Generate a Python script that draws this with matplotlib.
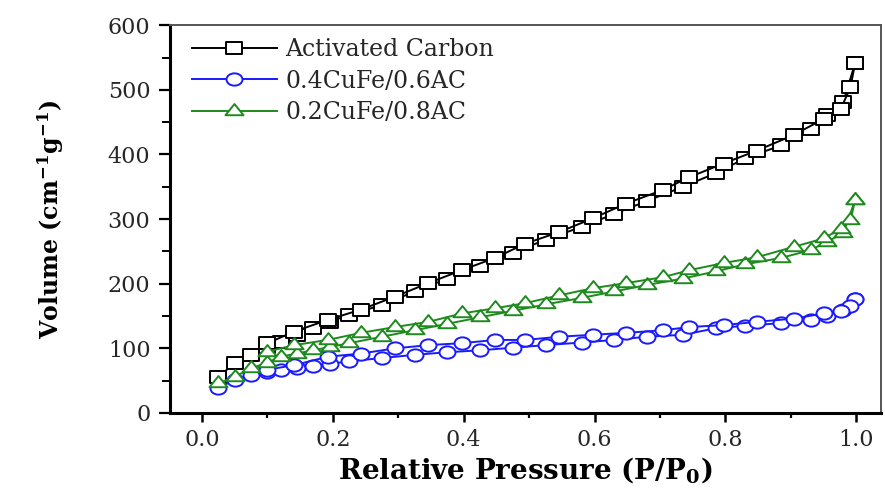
import matplotlib
matplotlib.use("Agg")
import matplotlib.pyplot as plt
from matplotlib.path import Path
from matplotlib.transforms import Affine2D
from matplotlib.ticker import MultipleLocator, FormatStrFormatter

plt.rcParams['font.family'] = ['DejaVu Serif']
plt.rcParams['mathtext.default'] = 'regular'

# relative pressure points, adsorption and desorption branches
p_ads = [0.025, 0.05, 0.075, 0.1, 0.12, 0.145, 0.17, 0.195, 0.225, 0.275, 0.325, 0.375, 0.425,
         0.475, 0.525, 0.58, 0.63, 0.68, 0.735, 0.785, 0.83, 0.885, 0.93, 0.955, 0.98, 0.998]
p_des = [0.998, 0.991, 0.976, 0.95, 0.904, 0.848, 0.797, 0.745, 0.704, 0.648, 0.597, 0.546, 0.494,
         0.448, 0.397, 0.346, 0.295, 0.243, 0.192, 0.141, 0.1]

ac_ads = [56, 77, 90, 102, 110, 120, 131, 141, 152, 167, 188, 208, 228,
          248, 268, 288, 308, 328, 350, 371, 394, 414, 440, 461, 481, 541]
ac_des = [541, 504, 470, 455, 430, 406, 386, 365, 345, 324, 301, 280, 262,
          240, 221, 201, 180, 160, 144, 126, 108]

cu4_ads = [39, 51, 59, 64, 67, 70, 73, 76, 80, 85, 90, 94, 97,
           101, 105, 109, 113, 118, 121, 131, 135, 139, 144, 150, 159, 177]
cu4_des = [177, 165, 158, 154, 146, 141, 136, 133, 128, 124, 121, 118, 113,
           113, 108, 105, 100, 92, 87, 74, 67]

cu2_ads = [46, 56, 69, 78, 87, 92, 97, 102, 108, 118, 128, 138, 148,
           158, 168, 178, 188, 198, 208, 219, 230, 240, 252, 265, 278, 329]
cu2_des = [329, 298, 285, 270, 257, 241, 232, 221, 210, 201, 193, 182, 170,
           162, 154, 141, 133, 124, 113, 105, 95]

# the source figure is a bit wide, so the markers are too
sq = Affine2D().translate(-0.5, -0.5).scale(1.35, 1).transform_path(Path.unit_rectangle())
circ = Affine2D().scale(1.3, 1).transform_path(Path.unit_circle())
tri = Affine2D().scale(1.4, 1).transform_path(Path.unit_regular_polygon(3))

series = [
    ("Activated Carbon", ac_ads, ac_des, "black", sq, 11.5),
    ("0.4CuFe/0.6AC", cu4_ads, cu4_des, "#1a1aff", circ, 11.5),
    ("0.2CuFe/0.8AC", cu2_ads, cu2_des, "#1e8a1e", tri, 13),
]

fig = plt.figure(figsize=(8.85, 4.94), dpi=100)
ax = fig.add_axes([0.192, 0.164, 0.803, 0.785])

for name, ads, des, col, mk, ms in series:
    ax.plot(p_ads, ads, color=col, marker=mk, ms=ms, mfc='white', mec=col, mew=1.4,
            lw=1.4, label=name)
    ax.plot(p_des, des, color=col, marker=mk, ms=ms, mfc='white', mec=col, mew=1.4, lw=1.4)

ax.set_xlim(-0.049, 1.037)
ax.set_ylim(0, 600)
ax.xaxis.set_major_locator(MultipleLocator(0.2))
ax.xaxis.set_minor_locator(MultipleLocator(0.1))
ax.yaxis.set_major_locator(MultipleLocator(100))
ax.yaxis.set_minor_locator(MultipleLocator(50))
ax.xaxis.set_major_formatter(FormatStrFormatter('%.1f'))

ax.tick_params(which='both', direction='out', labelsize=16, labelcolor='#262626',
               top=False, right=False)
ax.tick_params(axis='x', which='major', length=6.5, width=1.8, pad=5)
ax.tick_params(axis='x', which='minor', length=3.5, width=1.6)
ax.tick_params(axis='y', which='major', length=8, width=1.6, pad=6)
ax.tick_params(axis='y', which='minor', length=5.5, width=1.4)
for s in ['left', 'bottom']:
    ax.spines[s].set_linewidth(2.2)
for s in ['top', 'right']:
    ax.spines[s].set_linewidth(1.4)
    ax.spines[s].set_color('#555555')

ax.set_xlabel("Relative Pressure (P/P$_0$)", fontsize=20, fontweight='bold', labelpad=3)
ax.set_ylabel("Volume (cm$^{-1}$g$^{-1}$)", fontsize=17, fontweight='bold', labelpad=30)

leg = ax.legend(loc='upper left', bbox_to_anchor=(0.031, 0.967), frameon=False, fontsize=17,
                handlelength=3.6, borderaxespad=0, borderpad=0, labelspacing=0.37,
                handletextpad=0.35)
for t in leg.get_texts():
    t.set_color('#262626')

fig.savefig("out.png", dpi=100)
